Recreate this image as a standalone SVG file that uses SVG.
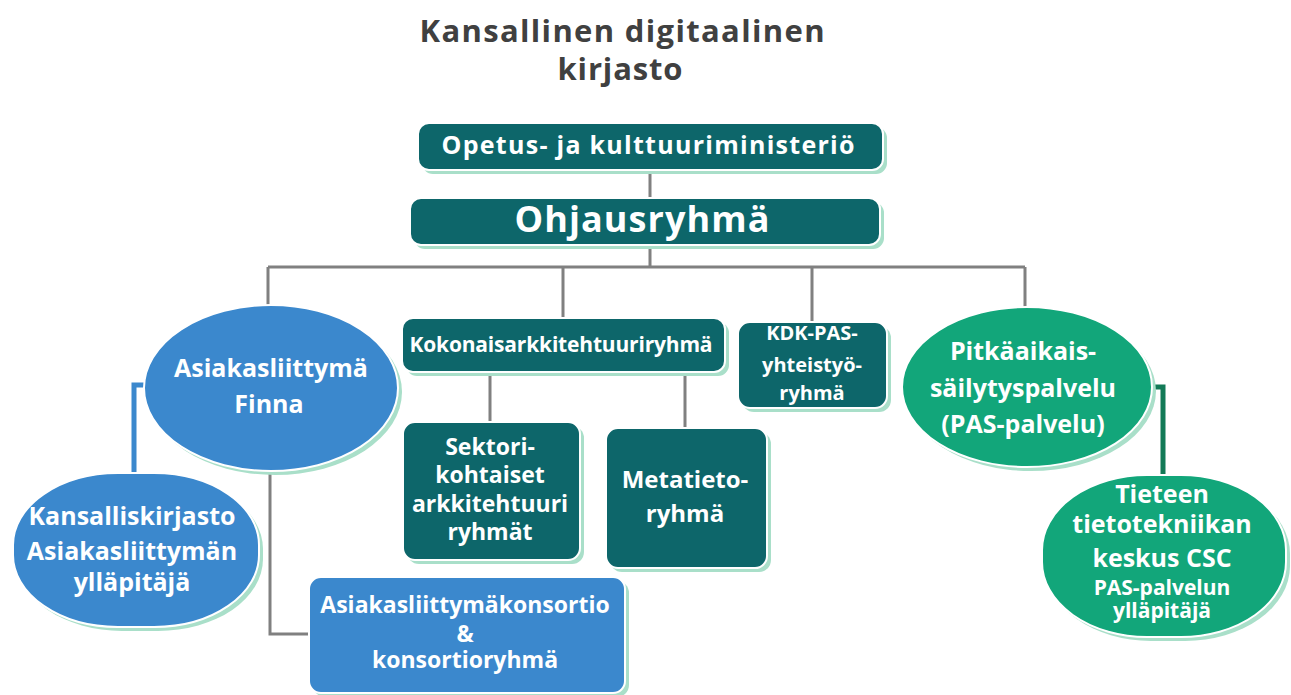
<svg xmlns="http://www.w3.org/2000/svg" width="1291" height="695" viewBox="0 0 1291 695">
<style>
text{font-family:"Open Sans","Liberation Sans",sans-serif;font-weight:bold;text-anchor:middle;fill:#ffffff}
.title{fill:#404040;font-size:31px}
.sh{fill:#a9dfc9}
.teal{fill:#0d666a;stroke:#ffffff;stroke-width:2}
.blue{fill:#3b88cd;stroke:#ffffff;stroke-width:2}
.green{fill:#12a67a;stroke:#ffffff;stroke-width:2}
.con{fill:none;stroke:#808080;stroke-width:3}
</style>
<rect width="1291" height="695" fill="#ffffff"/>
<g id="title">
<text class="title" x="622" y="42" textLength="405">Kansallinen digitaalinen</text>
<text class="title" x="620" y="80" textLength="125">kirjasto</text>
</g>
<g id="connectors">
<path class="con" d="M650 170V198M650 245V267M268 267H1025M268 267V305M563 267V318M812 267V322M1025 267V308"/>
<path class="con" d="M490 372V422M685 372V428"/>
<path class="con" d="M270 472V634H310"/>
<path d="M134 473V385H146" fill="none" stroke="#3b88cd" stroke-width="5"/>
<path d="M1148 387H1163V474" fill="none" stroke="#137a57" stroke-width="5"/>
</g>
<g id="opetus">
<rect class="sh" x="422" y="127" width="465" height="47" rx="11"/>
<rect class="teal" x="418" y="123" width="465" height="47" rx="11"/>
<text x="648" y="154" font-size="25" textLength="413">Opetus- ja kulttuuriministeriö</text>
</g>
<g id="ohjausryhma">
<rect class="sh" x="414" y="202" width="470" height="47" rx="11"/>
<rect class="teal" x="410" y="198" width="470" height="47" rx="11"/>
<text x="642" y="232" font-size="36" textLength="255">Ohjausryhmä</text>
</g>
<g id="finna">
<ellipse class="sh" cx="275" cy="392" rx="127" ry="83"/>
<ellipse class="blue" cx="271" cy="388" rx="127" ry="83"/>
<text x="271" y="377" font-size="25">Asiakasliittymä</text>
<text x="269" y="413" font-size="25">Finna</text>
</g>
<g id="kansalliskirjasto">
<rect class="sh" x="17" y="477" width="246" height="154" rx="105" ry="72"/>
<rect class="blue" x="13" y="473" width="246" height="154" rx="105" ry="72"/>
<text x="132" y="525" font-size="25">Kansalliskirjasto</text>
<text x="132" y="560" font-size="25">Asiakasliittymän</text>
<text x="132" y="591" font-size="25">ylläpitäjä</text>
</g>
<g id="konsortio">
<rect class="sh" x="313" y="581" width="316" height="116" rx="12"/>
<rect class="blue" x="309" y="577" width="316" height="116" rx="12"/>
<text x="465" y="613" font-size="23">Asiakasliittymäkonsortio</text>
<text x="465" y="642" font-size="23">&amp;</text>
<text x="465" y="668" font-size="23">konsortioryhmä</text>
</g>
<g id="kokonais">
<rect class="sh" x="406" y="322" width="323" height="54" rx="11"/>
<rect class="teal" x="402" y="318" width="323" height="54" rx="11"/>
<text x="561" y="352" font-size="21" textLength="303">Kokonaisarkkitehtuuriryhmä</text>
</g>
<g id="sektori">
<rect class="sh" x="407" y="426" width="177" height="138" rx="12"/>
<rect class="teal" x="403" y="422" width="177" height="138" rx="12"/>
<text x="490" y="455" font-size="23">Sektori-</text>
<text x="490" y="483" font-size="23">kohtaiset</text>
<text x="490" y="512" font-size="23">arkkitehtuuri</text>
<text x="490" y="540" font-size="23">ryhmät</text>
</g>
<g id="metatieto">
<rect class="sh" x="610" y="432" width="161" height="140" rx="12"/>
<rect class="teal" x="606" y="428" width="161" height="140" rx="12"/>
<text x="685" y="488" font-size="24">Metatieto-</text>
<text x="685" y="522" font-size="24">ryhmä</text>
</g>
<g id="kdkpas">
<rect class="sh" x="742" y="326" width="149" height="86" rx="12"/>
<rect class="teal" x="738" y="322" width="149" height="86" rx="12"/>
<text x="812" y="340" font-size="20">KDK-PAS-</text>
<text x="812" y="372" font-size="20">yhteistyö-</text>
<text x="812" y="400" font-size="20">ryhmä</text>
</g>
<g id="pitkaaikais">
<ellipse class="sh" cx="1031" cy="391" rx="125" ry="80"/>
<ellipse class="green" cx="1027" cy="387" rx="125" ry="80"/>
<text x="1023" y="360" font-size="25">Pitkäaikais-</text>
<text x="1023" y="397" font-size="25">säilytyspalvelu</text>
<text x="1023" y="433" font-size="25">(PAS-palvelu)</text>
</g>
<g id="csc">
<rect class="sh" x="1046" y="479" width="244" height="162" rx="105" ry="75"/>
<rect class="green" x="1042" y="475" width="244" height="162" rx="105" ry="75"/>
<text x="1162" y="503" font-size="25">Tieteen</text>
<text x="1162" y="533" font-size="25">tietotekniikan</text>
<text x="1162" y="567" font-size="25">keskus CSC</text>
<text x="1162" y="595" font-size="21">PAS-palvelun</text>
<text x="1162" y="618" font-size="21">ylläpitäjä</text>
</g>
</svg>
